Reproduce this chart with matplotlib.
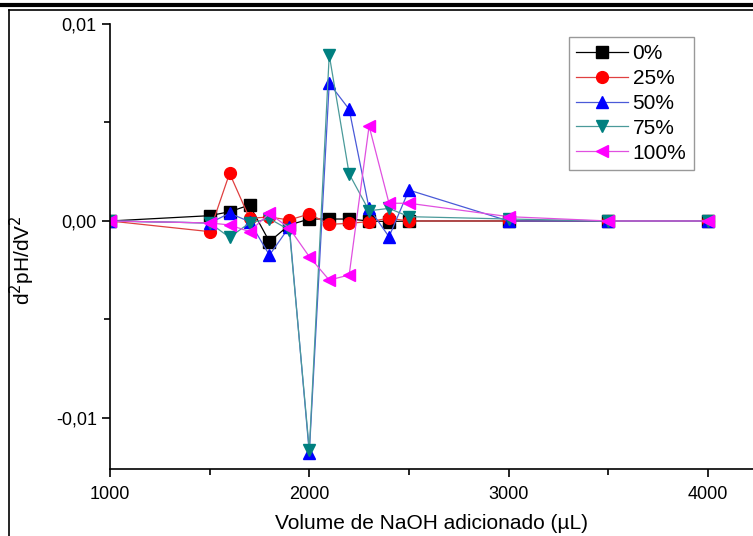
import matplotlib
matplotlib.use("Agg")
import matplotlib.pyplot as plt
from matplotlib.lines import Line2D
from matplotlib.ticker import FixedLocator, FuncFormatter

plt.rcParams['font.family'] = ['Liberation Sans', 'DejaVu Sans']

volume = [1000, 1500, 1600, 1700, 1800, 1900, 2000, 2100, 2200, 2300, 2400, 2500, 3000, 3500, 4000]
s0 = [0.0, 0.00027, 0.00047, 0.00081, -0.00105, -0.0002, 0.0001, 0.0001, 0.0001, 0.0, -0.00003, 0.0, 0.0, 0.0, 0.0]
s25 = [0.0, -0.00054, 0.00242, 0.00014, 0.0002, 0.00005, 0.00036, -0.00017, -0.00012, -0.00003, 0.00014, 0.0, 0.0, 0.0, 0.0]
s50 = [0.0, -0.0001, 0.00039, -0.00003, -0.00173, -0.0003, -0.01178, 0.00699, 0.00567, 0.00064, -0.0008, 0.00157, 0.0, 0.0, 0.0]
s75 = [0.0, -0.0001, -0.00083, -0.0001, 0.00012, -0.00046, -0.01162, 0.00843, 0.00239, 0.00052, 0.00064, 0.00022, 0.0001, 0.0, 0.0]
s100 = [0.0, -0.0001, -0.0002, -0.00054, 0.00039, -0.00037, -0.00181, -0.003, -0.00274, 0.00482, 0.0009, 0.0009, 0.00022, 0.0, 0.0]

labels = ['0%', '25%', '50%', '75%', '100%']
series = [s0, s25, s50, s75, s100]
markers = ['s', 'o', '^', 'v', '<']
mcolors = ['#000000', '#ff0000', '#0000ff', '#008080', '#ff00ff']
lcolors = ['#000000', '#e04040', '#4a5ad8', '#4a9a9a', '#e050e0']

fig = plt.figure(figsize=(7.53, 5.36), dpi=100)
ax = fig.add_axes([110/753, 1-469/536, 1-110/753, (469-24)/536])

for lab, ys, m, mc, lc in zip(labels, series, markers, mcolors, lcolors):
    ax.plot(volume, ys, color=lc, lw=0.9, marker=m, markersize=8.5,
            markerfacecolor=mc, markeredgecolor=mc, label=lab)

ax.set_xlim(1000, 1000 + (753-110)/0.1993)
ax.set_ylim(-0.01259, 0.01)
ax.spines['top'].set_visible(False)
ax.spines['right'].set_visible(False)
ax.spines['left'].set_linewidth(1.2)
ax.spines['bottom'].set_linewidth(1.2)
ax.xaxis.set_major_locator(FixedLocator([1000, 2000, 3000, 4000]))
ax.xaxis.set_minor_locator(FixedLocator([1500, 2500, 3500]))
ax.yaxis.set_major_locator(FixedLocator([-0.01, 0.0, 0.01]))
ax.yaxis.set_minor_locator(FixedLocator([-0.005, 0.005]))
ax.yaxis.set_major_formatter(FuncFormatter(lambda v, p: f"{v:.2f}".replace('.', ',')))
ax.tick_params(axis='both', which='major', direction='out', length=6, width=1.2, labelsize=13)
ax.tick_params(axis='both', which='minor', direction='out', length=4, width=1.2)
ax.tick_params(axis='x', pad=6)

ax.set_xlabel('Volume de NaOH adicionado (µL)', fontsize=15, labelpad=8)
fig.text(22/753, 1-260/536, 'd$^2$pH/dV$^2$', rotation=90, fontsize=15, ha='center', va='center')

leg = ax.legend(loc='upper left', bbox_to_anchor=((569-110)/643, 1-(37-24)/445),
                fontsize=15, frameon=True, fancybox=False, edgecolor='#808080',
                handlelength=2.5, handletextpad=0.2, labelspacing=0.28, borderpad=0.35,
                borderaxespad=0)
leg.get_frame().set_linewidth(1.0)

# page decorations
fig.add_artist(Line2D([0, 1], [1-4.5/536, 1-4.5/536], color='black', lw=3, transform=fig.transFigure))
fig.add_artist(Line2D([8.5/753, 1], [1-10/536, 1-10/536], color='black', lw=1.2, transform=fig.transFigure))
fig.add_artist(Line2D([8.5/753, 8.5/753], [0, 1-10/536], color='black', lw=1.2, transform=fig.transFigure))

fig.savefig('out.png', dpi=100)
